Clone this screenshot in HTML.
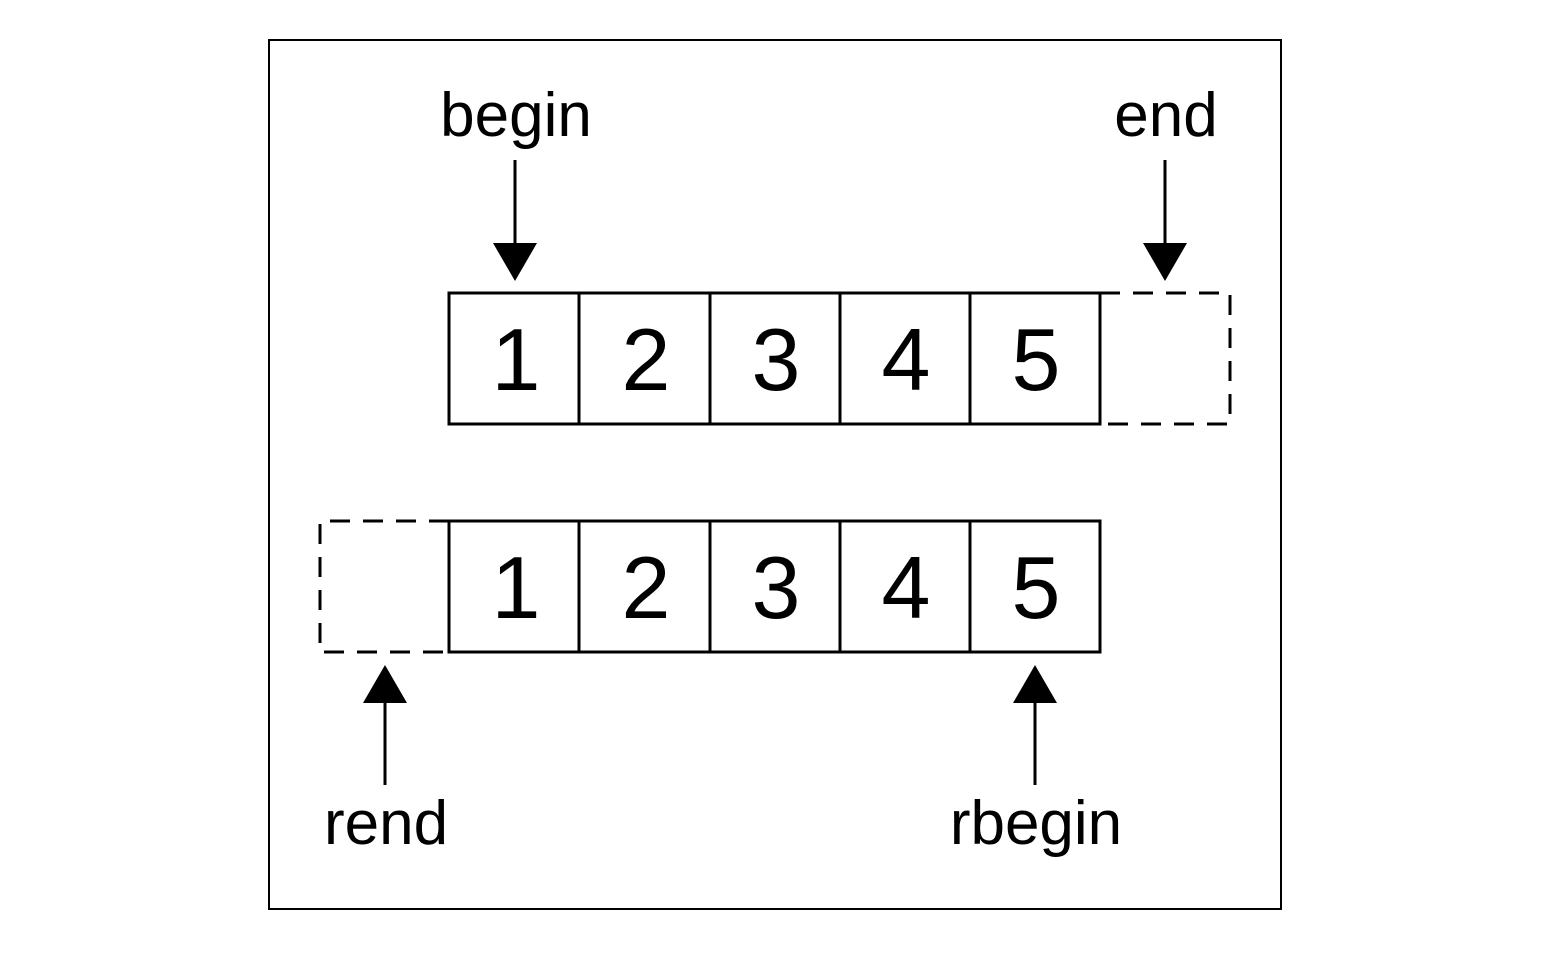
<!DOCTYPE html>
<html><head><style>body{margin:0;background:#fff}</style></head><body>
<svg width="1552" height="952" xmlns="http://www.w3.org/2000/svg">
<rect x="269" y="40" width="1012" height="869" fill="none" stroke="#000" stroke-width="2"/>
<g fill="none" stroke="#000" stroke-width="3">
<rect x="449" y="293" width="651" height="131"/>
<line x1="579" y1="293" x2="579" y2="424"/><line x1="710" y1="293" x2="710" y2="424"/><line x1="840" y1="293" x2="840" y2="424"/><line x1="970" y1="293" x2="970" y2="424"/>
<path d="M1100 293 H1230 V424 H1100" stroke-dasharray="20 13"/>
<rect x="449" y="521" width="651" height="131"/>
<line x1="579" y1="521" x2="579" y2="652"/><line x1="710" y1="521" x2="710" y2="652"/><line x1="840" y1="521" x2="840" y2="652"/><line x1="970" y1="521" x2="970" y2="652"/>
<path d="M449 521 H320 V652 H449" stroke-dasharray="20 13"/>
<line x1="515" y1="160" x2="515" y2="250"/><line x1="1165" y1="160" x2="1165" y2="250"/>
<line x1="385" y1="695" x2="385" y2="785"/><line x1="1035" y1="695" x2="1035" y2="785"/>
</g>
<g fill="#000">
<polygon points="493,243 537,243 515,281"/><polygon points="1143,243 1187,243 1165,281"/>
<polygon points="363,703 407,703 385,665"/><polygon points="1013,703 1057,703 1035,665"/>
</g>
<g font-family="Liberation Sans, sans-serif" text-anchor="middle" fill="#000">
<g font-size="88"><text x="516" y="390">1</text><text x="646" y="390">2</text><text x="776" y="390">3</text><text x="906" y="390">4</text><text x="1036" y="390">5</text>
<text x="516" y="618">1</text><text x="646" y="618">2</text><text x="776" y="618">3</text><text x="906" y="618">4</text><text x="1036" y="618">5</text></g>
<g font-size="62"><text x="516" y="136">begin</text><text x="1166" y="136">end</text><text x="386" y="844">rend</text><text x="1036" y="844">rbegin</text></g>
</g>
</svg>
</body></html>
